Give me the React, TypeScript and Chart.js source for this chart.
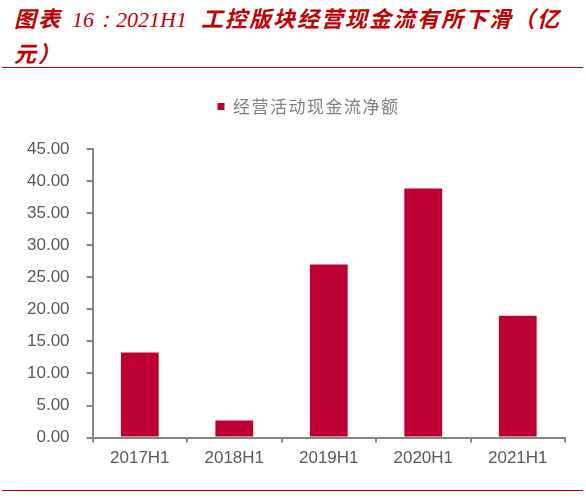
import React, { useEffect, useRef } from 'react';
import Chart from 'chart.js/auto';

const periods = ['2017H1', '2018H1', '2019H1', '2020H1', '2021H1'];
const cashFlow = [13.25, 2.65, 27.0, 38.85, 19.0];
const seriesName = '经营活动现金流净额';

const RED = '#C00000';
const BAR = '#BD0032';
const AXIS = '#868686';
const TEXT = '#595959';

// pushes the plot down below the legend, spaces its text out a little and nudges it right
const legendTweak = {
  id: 'legendTweak',
  beforeInit(chart: any) {
    const legend = chart.legend;
    const fit = legend.fit;
    const draw = legend.draw;
    legend.fit = function () {
      chart.ctx.letterSpacing = '1.5px';
      fit.call(legend);
      chart.ctx.letterSpacing = '0px';
      this.height += 24;
    };
    legend.draw = function () {
      const ctx = chart.ctx;
      ctx.save();
      ctx.letterSpacing = '1.5px';
      ctx.translate(21, 0);
      draw.call(legend);
      ctx.restore();
    };
  },
};

function App() {
  const canvasRef = useRef<HTMLCanvasElement | null>(null);

  useEffect(() => {
    document.body.style.margin = '0';
    if (!canvasRef.current) return;

    const chart = new Chart(canvasRef.current, {
      type: 'bar',
      data: {
        labels: periods,
        datasets: [
          {
            label: seriesName,
            data: cashFlow,
            backgroundColor: BAR,
            barPercentage: 0.4,
            categoryPercentage: 1,
          },
        ],
      },
      options: {
        animation: false,
        responsive: false,
        maintainAspectRatio: false,
        layout: { padding: { top: 3, left: 10, right: 21, bottom: 10 } },
        plugins: {
          tooltip: { enabled: false },
          legend: {
            position: 'top',
            labels: {
              boxWidth: 7,
              boxHeight: 7,
              padding: 10,
              color: '#7F7F7F',
              font: { family: '"Noto Sans CJK SC"', size: 17 },
            },
          },
        },
        scales: {
          x: {
            grid: {
              drawOnChartArea: false,
              drawTicks: true,
              tickLength: 5,
              color: AXIS,
              lineWidth: 2,
            },
            border: { color: AXIS, width: 2 },
            ticks: {
              color: TEXT,
              padding: 6,
              font: { family: '"Liberation Sans", Arial', size: 17 },
            },
          },
          y: {
            min: 0,
            max: 45,
            grid: {
              drawOnChartArea: false,
              drawTicks: true,
              tickLength: 6,
              color: AXIS,
              lineWidth: 2,
            },
            border: { color: AXIS, width: 2 },
            ticks: {
              stepSize: 5,
              color: TEXT,
              padding: 17,
              font: { family: '"Liberation Sans", Arial', size: 17 },
              callback: (v) => Number(v).toFixed(2),
            },
          },
        },
      },
      plugins: [legendTweak],
    });

    return () => {
      chart.destroy();
    };
  }, []);

  const cjk = { fontFamily: '"Noto Sans CJK SC"', fontWeight: 700, letterSpacing: 2 };
  const latin = { fontFamily: '"Liberation Serif", serif', fontWeight: 400, marginLeft: 10, marginRight: 14 };

  return (
    <div style={{ position: 'relative', width: 586, height: 498, background: '#fff', overflow: 'hidden' }}>
      <div
        style={{
          position: 'absolute',
          left: 14,
          top: 1,
          color: RED,
          fontStyle: 'italic',
          fontSize: 22,
          lineHeight: '33px',
          whiteSpace: 'nowrap',
        }}
      >
        <span style={cjk}>图表</span>
        <span style={latin}>16：2021H1</span>
        <span style={cjk}>工控版块经营现金流有所下滑（亿</span>
        <br />
        <span style={cjk}>元）</span>
      </div>
      <div style={{ position: 'absolute', left: 2, top: 67, width: 581, height: 0, borderTop: `1.5px solid ${RED}` }} />
      <canvas
        ref={canvasRef}
        width={586}
        height={400}
        style={{ position: 'absolute', left: 0, top: 85, width: 586, height: 400 }}
      />
      <div style={{ position: 'absolute', left: 2, top: 490, width: 581, height: 0, borderTop: `1.5px solid ${RED}` }} />
    </div>
  );
}

export default App;
